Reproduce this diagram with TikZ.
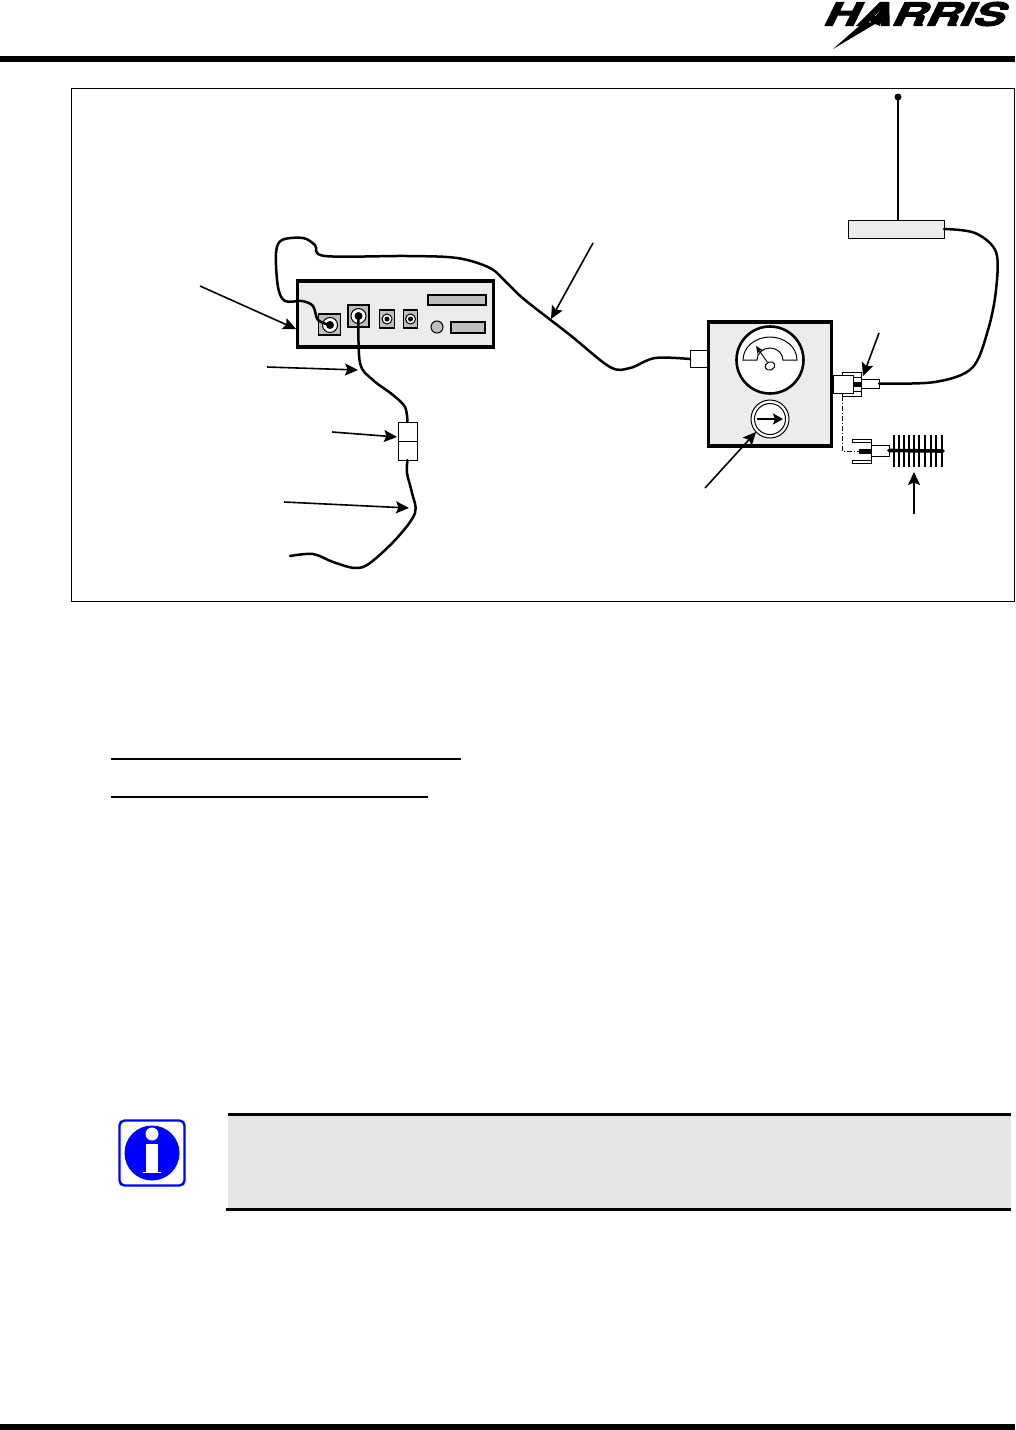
\documentclass[tikz,border=0pt]{standalone}
\usepackage{fontspec}
\setmainfont{TeX Gyre Heros}
\newfontfamily\logofont[BoldItalicFeatures={FakeBold=3,FakeSlant=0.12}]{TeX Gyre Heros}
\usetikzlibrary{arrows.meta, positioning, calc}
\definecolor{panelgray}{HTML}{ECECEC}
\definecolor{jackgray}{HTML}{BEBEBE}
\definecolor{notegray}{HTML}{E5E5E5}
\definecolor{infoblue}{HTML}{0000FF}

\begin{document}
\begin{tikzpicture}[
  x=1pt, y=-1pt,
  box/.style={draw, inner sep=0pt, outer sep=0pt, rectangle},
  panel/.style={box, line width=3.2pt, fill=panelgray},
  jack/.style={box, line width=1.5pt, fill=jackgray},
  hole/.style={draw, circle, inner sep=0pt, outer sep=0pt, line width=1pt, fill=white},
  pin/.style={circle, fill=black, inner sep=0pt, outer sep=0pt},
  part/.style={box, line width=1pt, fill=white},
  cable/.style={line width=2.5pt, line cap=round},
  arr/.style={-{Stealth[length=13pt, width=12pt, inset=2.5pt]}, line width=1.6pt},
  bar/.style={fill=black, inner sep=0pt, outer sep=0pt}
]
\useasboundingbox (0,0) rectangle (1015,1430);

% page furniture
\node[bar, minimum width=1015pt, minimum height=6pt] (topbar) at (507.5,59) {};
\node[bar, minimum width=1015pt, minimum height=6pt] (botbar) at (507.5,1427) {};
\node[box, line width=0.7pt, minimum width=943pt, minimum height=513pt] (frame) at (542.5,344.5) {};

% logo
\node[inner sep=0pt, xscale=1.47, font=\fontsize{32}{32}\logofont\bfseries\itshape] (logo) at (914,14) {HARRIS};
\fill (833,49) -- (866,20) -- (870,23) -- (887,2) -- (880,26) -- (875,24) -- cycle;
\node[pin, minimum size=4pt] (regmark) at (1006,7) {};

% radio
\node[panel, minimum width=196pt, minimum height=66pt] (radio) at (395.5,314) {};
\node[jack, minimum width=22pt, minimum height=21pt] (jackant) at (329.5,324.5) {};
\node[jack, minimum width=21pt, minimum height=22pt] (jackline) at (358.5,316) {};
\node[jack, minimum width=15pt, minimum height=18pt] (jackc) at (387,319) {};
\node[jack, minimum width=14pt, minimum height=18pt] (jackd) at (410.5,319) {};
\node[hole, minimum size=15pt] (holeant) at (330,325) {};
\node[hole, minimum size=15pt] (holeline) at (358.5,316) {};
\node[hole, minimum size=10pt] (holec) at (387,319) {};
\node[hole, minimum size=10pt] (holed) at (410.5,319) {};
\node[pin, minimum size=8pt] (pinant) at (330,325) {};
\node[pin, minimum size=8pt] (pinline) at (358.5,316) {};
\node[pin, minimum size=5pt] (pinc) at (387,319) {};
\node[pin, minimum size=5pt] (pind) at (410.5,319) {};
\node[jack, minimum width=58pt, minimum height=10pt] (slot) at (457,300) {};
\node[jack, minimum width=34pt, minimum height=11pt] (display) at (468,327.5) {};
\node[jack, circle, line width=1pt, minimum size=12pt] (knob) at (437,327) {};

% wattmeter
\node[part, minimum width=18pt, minimum height=17pt] (wattin) at (699,359) {};
\node[panel, minimum width=123pt, minimum height=124pt] (watt) at (770,384) {};
\node[hole, line width=2.6pt, minimum size=67pt] (meter) at (770,360) {};
\draw[line width=1pt] (743,360) arc[start angle=180, end angle=360, x radius=27, y radius=23] -- (783,360) arc[start angle=0, end angle=-180, x radius=13, y radius=12] -- cycle;
\node[draw, circle, line width=1pt, inner sep=0pt, minimum size=10pt, rotate=20, yscale=.8] (pivot) at (770,366) {};
\coordinate (needle) at (756,346);
\draw[-{Stealth[length=8pt, width=7pt]}, line width=0.9pt] (pivot) -- (needle);
\node[hole, line width=1pt, minimum size=38pt] (dialout) at (770,419) {};
\node[hole, line width=1pt, minimum size=31pt] (dial) at (770,419) {};
\coordinate (dialw) at (757,419);
\coordinate (diale) at (783,419);
\draw[-{Stealth[length=10pt, width=11pt, inset=2pt]}, line width=2.6pt] (dialw) -- (diale);

% connector on wattmeter
\node[part, minimum width=19pt, minimum height=24pt] (collar) at (851.5,384) {};
\node[part, minimum width=8pt, minimum height=14pt] (collarin) at (857,384) {};
\node[part, minimum width=20pt, minimum height=18pt] (wattout) at (843,384) {};
\node[part, minimum width=18pt, minimum height=9pt] (plug) at (870,383.5) {};
\node[bar, minimum width=8pt, minimum height=5pt] (pinout) at (857,384) {};

% whip antenna
\node[part, minimum width=18pt, minimum height=11pt] (plugb) at (880,450.5) {};
\node[part, minimum width=19pt, minimum height=3pt] (forka) at (861.5,440.5) {};
\node[part, minimum width=19pt, minimum height=3pt] (forkb) at (861.5,461.5) {};
\draw[line width=1pt] (forka.east) -- (forkb.east);
\node[bar, minimum width=12pt, minimum height=5pt] (pinb) at (865,451) {};
\node[inner sep=0pt, outer sep=0pt, minimum size=0pt] (whipend) at (943,451) {};
\foreach \x in {894,899,904,909,914,919,925,931,936,942}
  \draw[line width=1.1pt] (\x,435) -- (\x,467);
\draw[line width=3.6pt, line cap=round] (plugb.east) -- (whipend);
\coordinate (dashturn) at (842,451);
\coordinate (dashstart) at (842,396);
\coordinate (dashend) at (859,451);
\draw[line width=0.8pt, dash pattern=on 5pt off 2pt on 1pt off 2pt] (dashstart) -- (dashturn) -- (dashend);

% roof antenna
\node[box, line width=0.9pt, fill=panelgray, minimum width=96pt, minimum height=18pt] (base) at (896,229) {};
\node[pin, minimum size=7pt] (tip) at (898,97) {};
\coordinate (mast) at (898,220);
\draw[line width=1.3pt] (tip.center) -- (mast);

% inline box
\node[part, minimum width=19pt, minimum height=19pt] (filtertop) at (407.5,431.5) {};
\node[part, minimum width=19pt, minimum height=19pt] (filterbot) at (407.5,450.5) {};

% cables
\draw[cable] plot[smooth, tension=.55] coordinates {(pinant.center) (318,320) (313,306) (302,301) (285,301) (278,287) (276,253) (282,240) (303,238) (315,245) (325,256) (407,256) (457,258) (490,268) (507,283) (525,300) (570,335) (610,367) (630,368) (655,358) (wattin.west)};
\draw[cable] plot[smooth, tension=.55] coordinates {(pinline.center) (360,363) (373,380) (393,395) (405,407) (filtertop.north)};
\draw[cable] plot[smooth, tension=.55] coordinates {(filterbot.south) (407,473) (412,493) (415,513) (397,538) (370,563) (355,568) (333,562) (313,554) (290,556)};
\draw[cable] plot[smooth, tension=.55] coordinates {(base.east) (975,233) (996,252) (996,290) (988,330) (972,368) (935,382) (plug.east)};

% callouts
\coordinate (ca) at (200,286);
\coordinate (cb) at (267,367);
\coordinate (cc) at (332,432);
\coordinate (cd) at (284,502);
\coordinate (ce) at (593,243);
\coordinate (cf) at (879,333);
\coordinate (cg) at (705,488);
\coordinate (ch) at (914,514);
\coordinate (ta) at (296,329);
\coordinate (tb) at (358,370);
\coordinate (tc) at (397,437);
\coordinate (td) at (409,508);
\coordinate (te) at (551,319);
\coordinate (tf) at (863,376);
\coordinate (tg) at (756,432);
\coordinate (th) at (914,472);
\draw[arr] (ca) -- (ta);
\draw[arr] (cb) -- (tb);
\draw[arr] (cc) -- (tc);
\draw[arr] (cd) -- (td);
\draw[arr] (ce) -- (te);
\draw[arr] (cf) -- (tf);
\draw[arr] (cg) -- (tg);
\draw[arr] (ch) -- (th);

% headings
\node[bar, minimum width=350pt, minimum height=2pt] (rulea) at (286,759) {};
\node[bar, minimum width=317pt, minimum height=2pt] (ruleb) at (269.5,797) {};

% note
\node[draw=infoblue, line width=2.4pt, rounded corners=5pt, fill=white, minimum size=65pt, inner sep=0pt] (icon) at (152,1153) {};
\node[circle, fill=infoblue, minimum size=55pt, inner sep=0pt] (disc) at (152,1153) {};
\node[circle, fill=white, minimum size=13pt, inner sep=0pt] (dot) at (152,1134) {};
\node[fill=white, minimum width=12pt, minimum height=28pt, inner sep=0pt] (stem) at (152,1158) {};
\node[fill=white, minimum width=18pt, minimum height=1.5pt, inner sep=0pt] (foot) at (152,1172.5) {};
\node[fill=notegray, minimum width=783pt, minimum height=95pt, inner sep=0pt, outer sep=0pt] (note) at (619.5,1161.5) {};
\node[bar, minimum width=783pt, minimum height=3pt] (notetop) at (619.5,1114) {};
\node[bar, minimum width=785pt, minimum height=3pt] (notebot) at (618.5,1209) {};
\end{tikzpicture}
\end{document}
